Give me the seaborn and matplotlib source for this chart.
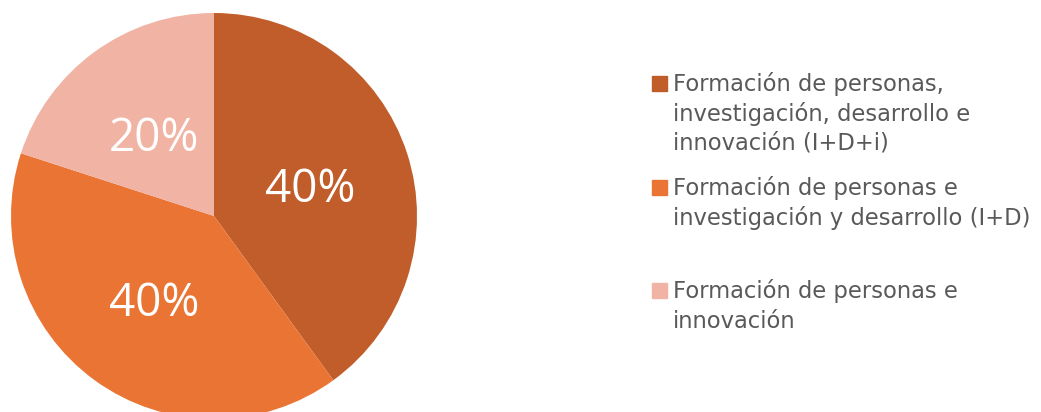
import matplotlib
matplotlib.use("Agg")
import matplotlib.pyplot as plt
import seaborn as sns
from matplotlib.patches import Rectangle

categories = [
    "Formación de personas,\ninvestigación, desarrollo e\ninnovación (I+D+i)",
    "Formación de personas e\ninvestigación y desarrollo (I+D)",
    "Formación de personas e\ninnovación",
]
values = [40, 40, 20]
colors = ["#C15D2A", "#EA7434", "#F0B3A4"]

sns.set_theme(style="white")
plt.rcParams["font.family"] = ["Open Sans", "DejaVu Sans"]

W, H = 1041, 412
fig = plt.figure(figsize=(W / 100, H / 100), dpi=100)
cx, cy, r = 214, 216, 203
ax = fig.add_axes([(cx - r) / W, (H - cy - r) / H, 2 * r / W, 2 * r / H])
wedges, texts, autotexts = ax.pie(
    values, colors=colors, startangle=90, counterclock=False,
    autopct="%1.0f%%", pctdistance=0.5, radius=1,
    wedgeprops=dict(linewidth=0),
    textprops=dict(color="white", fontsize=33),
)
for t in autotexts:
    t.set_va("center_baseline")
ax.set_xlim(-1, 1)
ax.set_ylim(-1, 1)
ax.set_aspect("equal")
ax.axis("off")

# Legend (manual)
text_x = 673
first_baselines = [91, 195, 298]
line_step = 29.5
for col, lab, yb in zip(colors, categories, first_baselines):
    for i, line in enumerate(lab.split("\n")):
        fig.text(text_x / W, 1 - (yb + i * line_step) / H, line,
                 ha="left", va="baseline", fontsize=16.3, color="#595959",
                 family=["DejaVu Sans"])
    fig.patches.append(Rectangle((652 / W, 1 - (yb) / H), 15 / W, 15 / H,
                                 transform=fig.transFigure, color=col))

fig.savefig("out.png", dpi=100)
